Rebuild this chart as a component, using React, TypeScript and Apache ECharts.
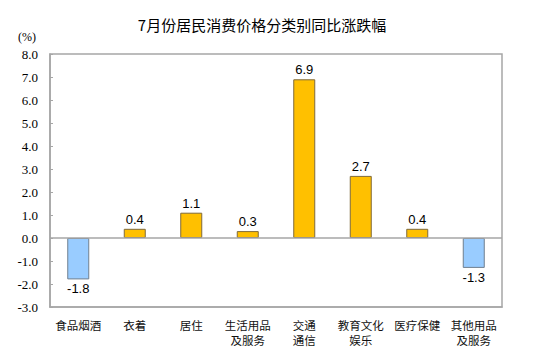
import React, { useEffect, useRef } from "react";
import * as echarts from "echarts";

const categories = ["食品烟酒", "衣着", "居住", "生活用品\n及服务", "交通\n通信", "教育文化\n娱乐", "医疗保健", "其他用品\n及服务"];
const values = [-1.8, 0.4, 1.1, 0.3, 6.9, 2.7, 0.4, -1.3];
const title = "7月份居民消费价格分类别同比涨跌幅";
const unitLabel = "(%)";

export default function App() {
  const ref = useRef<HTMLDivElement>(null);
  useEffect(() => {
    if (!ref.current) return;
    const chart = echarts.init(ref.current, null, { renderer: "svg" });
    chart.setOption({
      animation: false,
      backgroundColor: "#ffffff",
      title: {
        text: title,
        left: 257,
        top: 12,
        textAlign: "center",
        textStyle: { fontFamily: "Noto Sans CJK SC", fontSize: 15, fontWeight: "normal", color: "#000" },
      },
      graphic: [
        {
          type: "text",
          left: 18,
          top: 31,
          style: { text: unitLabel, font: "12px 'Liberation Serif'", fill: "#000" },
        },
      ],
      grid: { left: 50, right: 37, top: 54, bottom: 48, show: true, borderColor: "#A6A6A6", borderWidth: 1.5 },
      xAxis: {
        type: "category",
        data: categories,
        axisLine: { show: true, onZero: false, lineStyle: { color: "#A6A6A6", width: 1.5 } },
        axisTick: { show: false },
        axisLabel: {
          interval: 0,
          margin: 10,
          fontFamily: "Noto Sans CJK SC",
          fontSize: 11.5,
          color: "#111",
          lineHeight: 15,
        },
      },
      yAxis: {
        type: "value",
        min: -3,
        max: 8,
        interval: 1,
        splitLine: { show: false },
        axisLine: { show: true, lineStyle: { color: "#A6A6A6", width: 1.5 } },
        axisTick: { show: true, inside: true, length: 3, lineStyle: { color: "#A6A6A6" } },
        axisLabel: {
          formatter: (v: number) => v.toFixed(1),
          fontFamily: "Liberation Serif",
          fontSize: 13,
          color: "#000",
          margin: 12,
        },
      },
      series: [
        {
          type: "bar",
          data: values.map((v) => ({
            value: v,
            itemStyle: {
              color: v >= 0 ? "#FFC000" : "#99CCFF",
              borderColor: v >= 0 ? "#7F6A3A" : "#6F7F8F",
              borderWidth: 1,
            },
            label: { position: v >= 0 ? "top" : "bottom" },
          })),
          barWidth: 22,
          label: {
            show: true,
            formatter: (p: any) => Number(p.value).toFixed(1),
            fontFamily: "Liberation Sans",
            fontSize: 13,
            color: "#000",
            distance: 3,
          },
          markLine: {
            silent: true,
            symbol: "none",
            label: { show: false },
            lineStyle: { color: "#A6A6A6", type: "solid", width: 1.5 },
            data: [{ yAxis: 0 }],
          },
        },
      ],
    });
    return () => chart.dispose();
  }, []);
  return <div ref={ref} style={{ width: 539, height: 355, position: "absolute", left: 0, top: 0 }} />;
}
